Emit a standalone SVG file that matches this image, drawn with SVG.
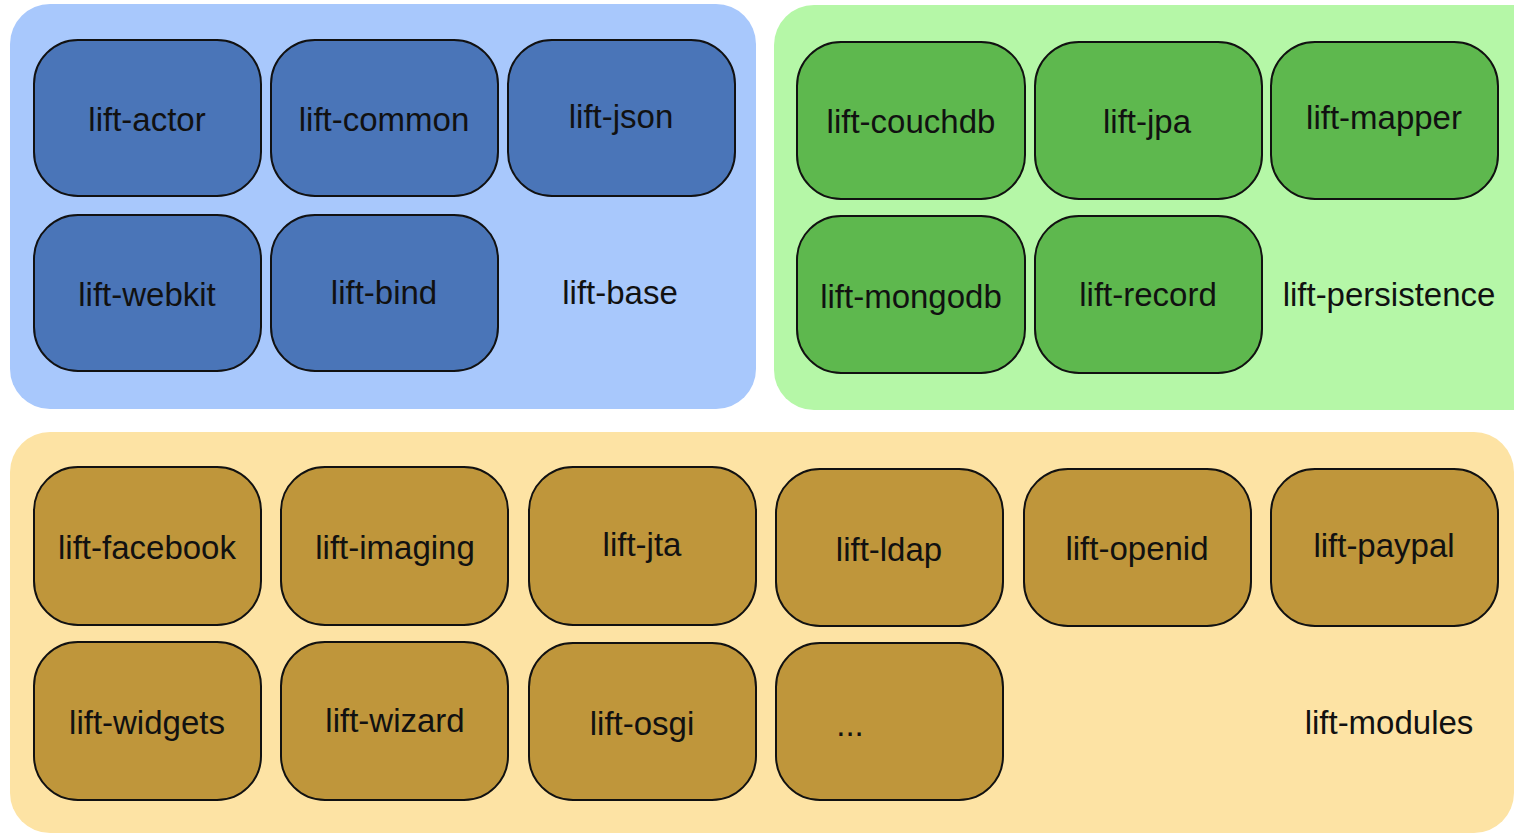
<svg xmlns="http://www.w3.org/2000/svg" width="1514" height="833" viewBox="0 0 1514 833">
<style>
  .grp-base { fill: #a8c8fc; }
  .grp-pers { fill: #b5f7a7; }
  .grp-mod { fill: #fde3a4; }
  .n { stroke: #111; stroke-width: 2; }
  .nb { fill: #4a75b8; }
  .ng { fill: #5eb84e; }
  .no { fill: #bf963b; }
  text { font-family: "Liberation Sans", Arial, sans-serif; font-size: 33px; fill: #111; text-anchor: middle; dominant-baseline: central; }
</style>
<rect width="1514" height="833" fill="#ffffff"/>
<g id="lift-base-group">
  <rect class="grp-base" x="10" y="4" width="746" height="405" rx="40"/>
  <text x="620" y="292">lift-base</text>
</g>
<g id="lift-persistence-group">
  <rect class="grp-pers" x="774" y="5" width="780" height="405" rx="40"/>
  <text x="1389" y="294">lift-persistence</text>
</g>
<g id="lift-modules-group">
  <rect class="grp-mod" x="10" y="432" width="1504" height="401" rx="40"/>
  <text x="1389" y="722">lift-modules</text>
</g>
<g id="lift-actor"><rect class="n nb" x="34" y="40" width="227" height="156" rx="44"/><text x="147" y="119">lift-actor</text></g>
<g id="lift-common"><rect class="n nb" x="271" y="40" width="227" height="156" rx="44"/><text x="384" y="119">lift-common</text></g>
<g id="lift-json"><rect class="n nb" x="508" y="40" width="227" height="156" rx="44"/><text x="621" y="116">lift-json</text></g>
<g id="lift-webkit"><rect class="n nb" x="34" y="215" width="227" height="156" rx="44"/><text x="147" y="294">lift-webkit</text></g>
<g id="lift-bind"><rect class="n nb" x="271" y="215" width="227" height="156" rx="44"/><text x="384" y="292">lift-bind</text></g>

<g id="lift-couchdb"><rect class="n ng" x="797" y="42" width="228" height="157" rx="44"/><text x="911" y="121">lift-couchdb</text></g>
<g id="lift-jpa"><rect class="n ng" x="1035" y="42" width="227" height="157" rx="44"/><text x="1147" y="121">lift-jpa</text></g>
<g id="lift-mapper"><rect class="n ng" x="1271" y="42" width="227" height="157" rx="44"/><text x="1384" y="117">lift-mapper</text></g>
<g id="lift-mongodb"><rect class="n ng" x="797" y="216" width="228" height="157" rx="44"/><text x="911" y="296">lift-mongodb</text></g>
<g id="lift-record"><rect class="n ng" x="1035" y="216" width="227" height="157" rx="44"/><text x="1148" y="294">lift-record</text></g>

<g id="lift-facebook"><rect class="n no" x="34" y="467" width="227" height="158" rx="44"/><text x="147" y="547">lift-facebook</text></g>
<g id="lift-imaging"><rect class="n no" x="281" y="467" width="227" height="158" rx="44"/><text x="395" y="547">lift-imaging</text></g>
<g id="lift-jta"><rect class="n no" x="529" y="467" width="227" height="158" rx="44"/><text x="642" y="544">lift-jta</text></g>
<g id="lift-ldap"><rect class="n no" x="776" y="469" width="227" height="157" rx="44"/><text x="889" y="549">lift-ldap</text></g>
<g id="lift-openid"><rect class="n no" x="1024" y="469" width="227" height="157" rx="44"/><text x="1137" y="548">lift-openid</text></g>
<g id="lift-paypal"><rect class="n no" x="1271" y="469" width="227" height="157" rx="44"/><text x="1384" y="545">lift-paypal</text></g>
<g id="lift-widgets"><rect class="n no" x="34" y="642" width="227" height="158" rx="44"/><text x="147" y="722">lift-widgets</text></g>
<g id="lift-wizard"><rect class="n no" x="281" y="642" width="227" height="158" rx="44"/><text x="395" y="720">lift-wizard</text></g>
<g id="lift-osgi"><rect class="n no" x="529" y="643" width="227" height="157" rx="44"/><text x="642" y="723">lift-osgi</text></g>
<g id="more"><rect class="n no" x="776" y="643" width="227" height="157" rx="44"/><text x="850" y="724">...</text></g>
<g id="connectors"></g>
</svg>
